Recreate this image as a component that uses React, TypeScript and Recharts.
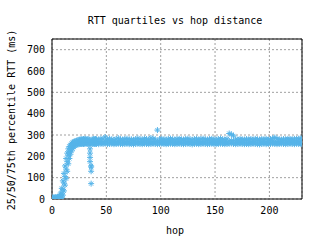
import React from "react";
import {
  ScatterChart,
  Scatter,
  XAxis,
  YAxis,
  CartesianGrid,
  ReferenceArea,
} from "recharts";

// hop distance (35 and 36 appear twice: the dip column)
const hops = [
  0, 1, 2, 3, 4, 5, 6, 7, 8, 9, 10, 11, 12, 13, 14, 15, 16, 17, 18, 19, 20,
  21, 22, 23, 24, 25, 26, 27, 28, 29, 30, 31, 32, 33, 34, 35, 35, 36, 36, 37,
  38, 39, 40,
  41, 43, 45, 47, 49, 51, 53, 55, 57, 59,
  61, 63, 65, 67, 69, 71, 73, 75, 77, 79,
  81, 83, 85, 87, 89, 91, 93, 95, 97, 99,
  101, 103, 105, 107, 109, 111, 113, 115, 117, 119,
  121, 123, 125, 127, 129, 131, 133, 135, 137, 139,
  141, 143, 145, 147, 149, 151, 153, 155, 157, 159,
  161, 163, 165, 167, 169, 171, 173, 175, 177, 179,
  181, 183, 185, 187, 189, 191, 193, 195, 197, 199,
  201, 203, 205, 207, 209, 211, 213, 215, 217, 219,
  221, 223, 225, 227, 229, 230,
];

const p25 = [
  0, 0, 0, 0, 1, 0, 1, 2, 3, 8, 18, 38, 65, 95, 130, 165, 190, 210, 225,
  236, 243, 250, 253, 255, 256, 257, 258, 258, 259, 258, 259, 260, 259, 258,
  259, 215, 175, 130, 72, 258, 259, 258, 259,
  258, 257, 259, 258, 260, 257, 258, 259, 257, 258,
  259, 258, 257, 258, 259, 257, 258, 256, 258, 259,
  258, 257, 259, 258, 257, 258, 259, 258, 257, 258,
  259, 258, 257, 258, 259, 258, 257, 258, 259, 258,
  257, 258, 259, 258, 256, 258, 259, 257, 258, 259,
  258, 257, 258, 259, 258, 257, 258, 259, 258, 257,
  258, 259, 260, 258, 257, 258, 259, 258, 257, 258,
  257, 258, 259, 258, 257, 256, 258, 259, 257, 258,
  258, 259, 258, 257, 258, 259, 258, 257, 258, 259,
  258, 257, 259, 258, 257, 258,
];

const p50 = [
  2, 3, 2, 3, 3, 4, 4, 6, 10, 22, 45, 75, 105, 140, 175, 205, 222, 236, 246,
  252, 257, 260, 262, 264, 265, 266, 267, 268, 268, 267, 268, 269, 268, 267,
  268, 235, 195, 155, 150, 268, 267, 268, 269,
  268, 267, 269, 268, 270, 267, 268, 269, 267, 268,
  269, 268, 267, 268, 269, 267, 268, 266, 268, 269,
  268, 267, 269, 268, 267, 268, 269, 268, 270, 268,
  269, 268, 267, 268, 269, 268, 267, 268, 269, 268,
  267, 268, 269, 268, 266, 268, 269, 267, 268, 269,
  268, 267, 268, 269, 268, 267, 268, 269, 268, 267,
  268, 272, 274, 268, 267, 268, 269, 268, 267, 268,
  267, 268, 269, 268, 267, 266, 268, 269, 267, 268,
  268, 269, 268, 267, 268, 269, 268, 267, 268, 269,
  268, 267, 269, 268, 267, 268,
];

const p75 = [
  6, 8, 7, 9, 8, 10, 9, 14, 28, 50, 85, 120, 155, 190, 215, 235, 246, 254,
  260, 265, 268, 270, 272, 274, 276, 278, 279, 280, 279, 281, 280, 282, 279,
  281, 280, 255, 270, 265, 268, 279, 282, 280, 281,
  280, 279, 283, 281, 290, 279, 282, 280, 278, 281,
  285, 280, 279, 281, 283, 279, 280, 278, 281, 284,
  280, 279, 283, 281, 279, 286, 282, 280, 323, 281,
  282, 280, 279, 281, 283, 280, 279, 281, 282, 280,
  279, 281, 283, 280, 278, 281, 282, 279, 281, 283,
  280, 279, 281, 282, 280, 279, 281, 283, 280, 279,
  281, 307, 303, 296, 280, 279, 281, 280, 279, 281,
  280, 281, 279, 282, 280, 279, 281, 280, 282, 279,
  281, 284, 288, 282, 280, 279, 281, 280, 282, 281,
  280, 282, 281, 283, 284, 282,
];

const yTicks = [0, 100, 200, 300, 400, 500, 600, 700];
const xTicks = [0, 50, 100, 150, 200];

const series = [p25, p50, p75].map((vals) =>
  hops.map((h, i) => ({ hop: h, rtt: vals[i] }))
);

const BLUE = "#56b4e9";
const FONT = "'DejaVu Sans Mono', monospace";

const Asterisk = (props: any) => {
  const { cx, cy } = props;
  if (cx == null || cy == null) return null;
  const d =
    `M${cx - 3},${cy}H${cx + 3}M${cx},${cy - 3}V${cy + 3}` +
    `M${cx - 2},${cy - 2}L${cx + 2},${cy + 2}M${cx - 2},${cy + 2}L${cx + 2},${cy - 2}`;
  return <path d={d} stroke={BLUE} strokeWidth={1} fill="none" />;
};

const App = () => {
  const tickStyle = { fontFamily: FONT, fontSize: 10, fill: "#000" };
  return (
    <div style={{ position: "absolute", left: 0, top: 0, width: 320, height: 240, overflow: "hidden", background: "#fff" }}>
      <ScatterChart
        width={320}
        height={240}
        margin={{ top: 39, right: 18, left: 0, bottom: 21 }}
      >
        <CartesianGrid stroke="#a0a0a0" strokeDasharray="2 2" />
        <XAxis
          type="number"
          dataKey="hop"
          domain={[0, 230]}
          ticks={xTicks}
          height={20}
          axisLine={false}
          tickLine={false}
          tickSize={5}
          tickMargin={3}
          tick={tickStyle}
          allowDataOverflow
        />
        <YAxis
          type="number"
          dataKey="rtt"
          domain={[0, 750]}
          ticks={yTicks}
          width={52}
          axisLine={false}
          tickLine={false}
          tickSize={5}
          tickMargin={2}
          tick={tickStyle}
          allowDataOverflow
        />
        {series.map((d, i) => (
          <Scatter
            key={i}
            data={d}
            fill={BLUE}
            shape={Asterisk}
            isAnimationActive={false}
          />
        ))}
        <ReferenceArea
          x1={0}
          x2={230}
          y1={0}
          y2={750}
          fill="none"
          fillOpacity={0}
          stroke="#000"
          strokeWidth={1}
          ifOverflow="visible"
        />
      </ScatterChart>
      <div style={{ position: "absolute", left: 75, top: 15, width: 200, textAlign: "center", fontFamily: FONT, fontSize: 10, lineHeight: "12px" }}>
        RTT quartiles vs hop distance
      </div>
      <div style={{ position: "absolute", left: 75, top: 225, width: 200, textAlign: "center", fontFamily: FONT, fontSize: 10, lineHeight: "12px" }}>
        hop
      </div>
      <div style={{ position: "absolute", left: -88, top: 114, width: 200, textAlign: "center", fontFamily: FONT, fontSize: 10, lineHeight: "12px", transform: "rotate(-90deg)" }}>
        25/50/75th percentile RTT (ms)
      </div>
    </div>
  );
};

export default App;
